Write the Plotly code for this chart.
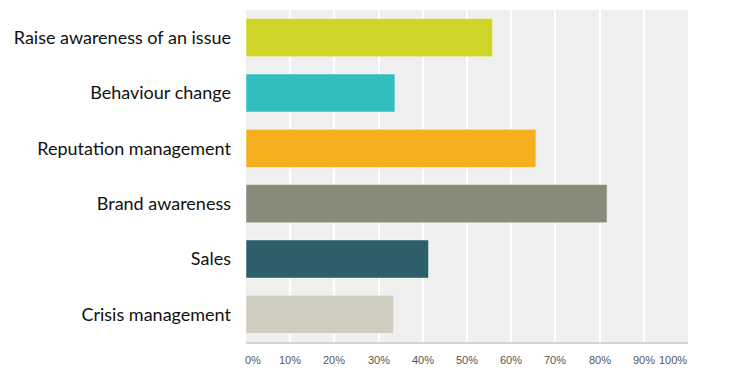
import plotly.graph_objects as go

categories = ["Raise awareness of an issue", "Behaviour change", "Reputation management",
              "Brand awareness", "Sales", "Crisis management"]
values = [55.8, 33.7, 65.6, 81.7, 41.3, 33.4]
colors = ["#CDD628", "#32BEBF", "#F5AF1F", "#898A79", "#2D5F6B", "#CFCDC0"]
tick_vals = [0, 10, 20, 30, 40, 50, 60, 70, 80, 90, 100]
tick_labels = ["0%", "10%", "20%", "30%", "40%", "50%", "60%", "70%", "80%", "90%", "100%"]

fig = go.Figure(go.Bar(
    y=categories, x=values, orientation="h",
    marker=dict(color=colors, line=dict(color="rgba(255,255,255,0.5)", width=1)),
    hoverinfo="x+y",
))

fig.update_layout(
    width=731, height=372,
    margin=dict(l=238, r=51, t=2, b=38),
    paper_bgcolor="white", plot_bgcolor="#EFEFEF",
    bargap=0.31, showlegend=False,
    font=dict(family="Lato, Noto Sans, sans-serif", color="#222"),
)
fig.update_yaxes(autorange="reversed", tickfont=dict(size=18, color="#111"),
                 ticks="", ticklabelstandoff=14, showgrid=False, zeroline=False,
                 automargin=False)
fig.update_xaxes(range=[0, 100], tickvals=tick_vals, showticklabels=False,
                 showgrid=True, gridcolor="white", gridwidth=1.5, zeroline=False,
                 showline=True, linecolor="#D3D3D3", linewidth=2, automargin=False)

shifts = {0: 7, 100: -15}
for v, lab in zip(tick_vals, tick_labels):
    fig.add_annotation(x=v, y=0, xref="x", yref="paper", yshift=-26,
                       xshift=shifts.get(v, 0), text=lab, showarrow=False,
                       font=dict(family="Arial, Liberation Sans, sans-serif", size=11, color="#555"))

fig.write_html("out.html")
